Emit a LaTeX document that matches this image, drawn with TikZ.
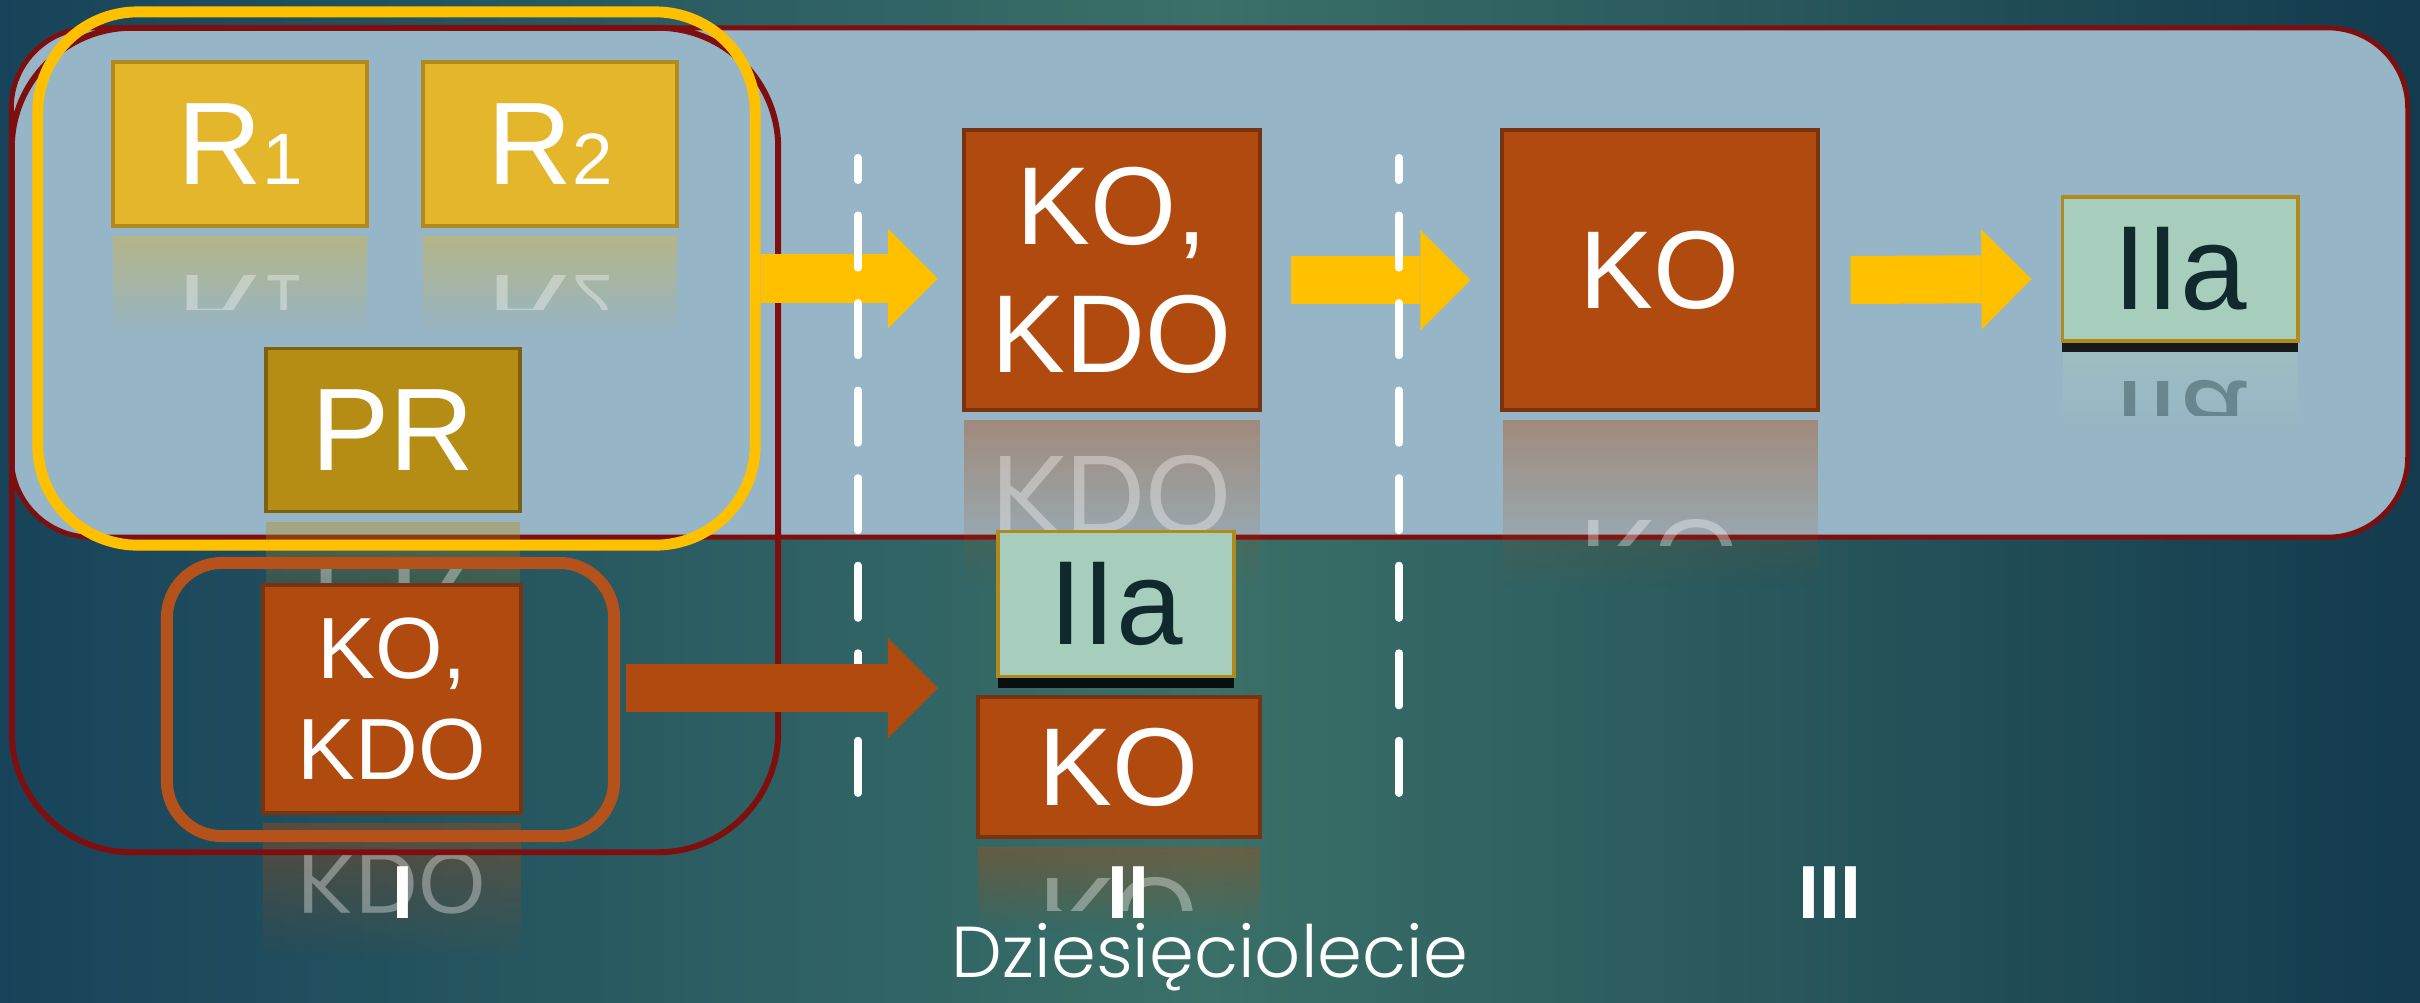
\documentclass[tikz,border=0pt]{standalone}
\usepackage{fontspec}
\setmainfont{Liberation Sans}
\newfontfamily\thinfont{Poppins Light}
\usetikzlibrary{arrows.meta,positioning,calc,fadings,shadows}

\definecolor{bgleft}{HTML}{17435A}
\definecolor{bgmid}{HTML}{3A7068}
\definecolor{bgright}{HTML}{133A4E}
\definecolor{panelfill}{HTML}{96B5C6}
\definecolor{darkred}{HTML}{7F0F0F}
\definecolor{gold}{HTML}{FFC000}
\definecolor{rfill}{HTML}{E3B62B}
\definecolor{rline}{HTML}{B08A1D}
\definecolor{prfill}{HTML}{B58C14}
\definecolor{prline}{HTML}{7D6010}
\definecolor{kofill}{HTML}{B04A0E}
\definecolor{koline}{HTML}{7A3310}
\definecolor{iiafill}{HTML}{A7CDBC}
\definecolor{iiatxt}{HTML}{10292D}
\definecolor{oframe}{HTML}{B5511A}

\newcommand\rsub[1]{{\fontsize{20.7}{22}\selectfont #1}}

\tikzset{
  outline/.style={rectangle, inner sep=0pt, fill=none},
  cell/.style={rectangle, inner sep=0pt, line width=1.1pt, text=white},
  rtext/.style={font=\fontsize{33.4}{36}\selectfont, text=white},
  kotext/.style={font=\fontsize{31.5}{36.4}\selectfont, text=white, align=center},
  kosmall/.style={font=\fontsize{24.7}{28.7}\selectfont, text=white, align=center},
  iiatext/.style={font=\fontsize{34}{36}\selectfont, text=iiatxt},
  rbox/.style={cell, rtext, draw=rline, fill=rfill},
  prbox/.style={cell, rtext, draw=prline, fill=prfill},
  kobox/.style={cell, kotext, draw=koline, fill=kofill},
  iiabox/.style={cell, iiatext, draw=rline, fill=iiafill,
    drop shadow={shadow xshift=0pt, shadow yshift=-3.2pt, fill=black, opacity=.85}},
  yarrow/.style={draw=gold, line width=0.48cm,
    -{Triangle[length=0.5cm, width=1cm, line width=0pt]}},
  oarrow/.style={yarrow, draw=kofill},
  divider/.style={draw=white, line width=2pt, line cap=round,
    dash pattern=on 0.53cm off 0.345cm, dash phase=0.3cm},
  numlabel/.style={font=\fontsize{21.4}{24}\selectfont\bfseries, text=white, anchor=base},
  eralabel/.style={font=\thinfont\fontsize{20.5}{24}\selectfont, text=white, anchor=base}
}

\begin{document}
\begin{tikzpicture}[x=0.01cm, y=-0.01cm]
\useasboundingbox (0,0) rectangle (2420,1002);
\shade[left color=bgleft, right color=bgright, middle color=bgmid] (0,0) rectangle (2420,1002);

% light panel
\node[outline, draw=darkred, line width=1.4pt, fill=panelfill, rounded corners=0.8cm,
  minimum width=23.95cm, minimum height=5.09cm] (panel) at (1209.5,282.5) {};

% mirrored copies under the boxes (last text line only)
\foreach \cx/\cy/\w/\hh/\col/\sty/\base/\txt in {
  240/144/254/164/rfill/rtext/187/{R\rsub{1}},
  550/144/254/164/rfill/rtext/187/{R\rsub{2}},
  393/430/254/163/prfill/rtext/473/{PR},
  1112/270/296/279/kofill/kotext/373/{KDO},
  1660/270/315/279/kofill/kotext/309/{KO},
  2180/269/235/144/iiafill/iiatext/311/{IIa},
  392/699/258/228/kofill/kosmall/783/{KDO},
  1119/767/282/140/kofill/kotext/806/{KO}}{
  \fill[\col, fill opacity=.4, path fading=south]
    ({\cx-\w/2},{\cy+\hh/2+10}) rectangle ({\cx+\w/2},{\cy+1.1*\hh+10});
  \begin{scope}[shift={(0,{2*\cy+\hh+10})}, yscale=-1, transform shape]
    \clip ({\cx-\w/2},{\cy+\hh/2}) rectangle ({\cx+\w/2},{\cy+0.05*\hh});
    \node[\sty, anchor=base, text opacity=.35] at (\cx,\base) {\txt};
  \end{scope}
}

% frames
\node[outline, draw=darkred, line width=1.7pt, rounded corners=1.2cm,
  minimum width=7.66cm, minimum height=8.24cm] (tall) at (395,440) {};
\node[outline, draw=gold, line width=3.1pt, rounded corners=1cm,
  minimum width=7.17cm, minimum height=5.33cm] (yfr) at (396.5,278.5) {};
\node[outline, draw=oframe, line width=3.4pt, rounded corners=0.55cm,
  minimum width=4.47cm, minimum height=2.73cm] (ofr) at (390.5,699.5) {};

% boxes
\node[rbox, minimum width=2.54cm, minimum height=1.64cm] (r1) at (240,144) {R\rsub{1}};
\node[rbox, minimum width=2.54cm, minimum height=1.64cm] (r2) at (550,144) {R\rsub{2}};
\node[prbox, minimum width=2.54cm, minimum height=1.63cm] (pr) at (393,430) {PR};
\node[kobox, kosmall, minimum width=2.58cm, minimum height=2.28cm] (kokdoL) at (392,699) {KO,\\KDO};
\node[kobox, minimum width=2.96cm, minimum height=2.79cm] (kokdoA) at (1112,270) {KO,\\KDO};
\node[kobox, minimum width=3.15cm, minimum height=2.79cm] (koB) at (1660,270) {KO};
\node[iiabox, minimum width=2.35cm, minimum height=1.44cm] (iiaR) at (2180,269) {IIa};
\node[iiabox, minimum width=2.36cm, minimum height=1.45cm] (iiaM) at (1116,604) {IIa};
\node[kobox, minimum width=2.82cm, minimum height=1.40cm] (koM) at (1119,767) {KO};

% arrows
\draw[yarrow, shorten >=0.24cm] (yfr.east) -- (yfr.east -| kokdoA.west);
\draw[yarrow] ($(kokdoA.east)+(29,10)$) -- ($(koB.west)+(-30,10)$);
\draw[yarrow] ($(koB.east)+(31,10)$) -- ($(iiaR.west)+(-29,10)$);

\draw[divider] (858,157.5) -- (858,797.5);
\draw[divider] (1399,157.5) -- (1399,797.5);

\draw[oarrow] ($(ofr.east)+(6,-11.5)$) -- ($(ofr.east -| kokdoA.west)+(-24,-11.5)$);

% decades
\node[numlabel] (lab1) at (403,918) {I};
\node[numlabel] (lab2) at (1128,918) {II};
\node[numlabel] (lab3) at (1830,918) {III};
\node[eralabel] (era) at (1210,977) {Dziesięciolecie};
\end{tikzpicture}
\end{document}
